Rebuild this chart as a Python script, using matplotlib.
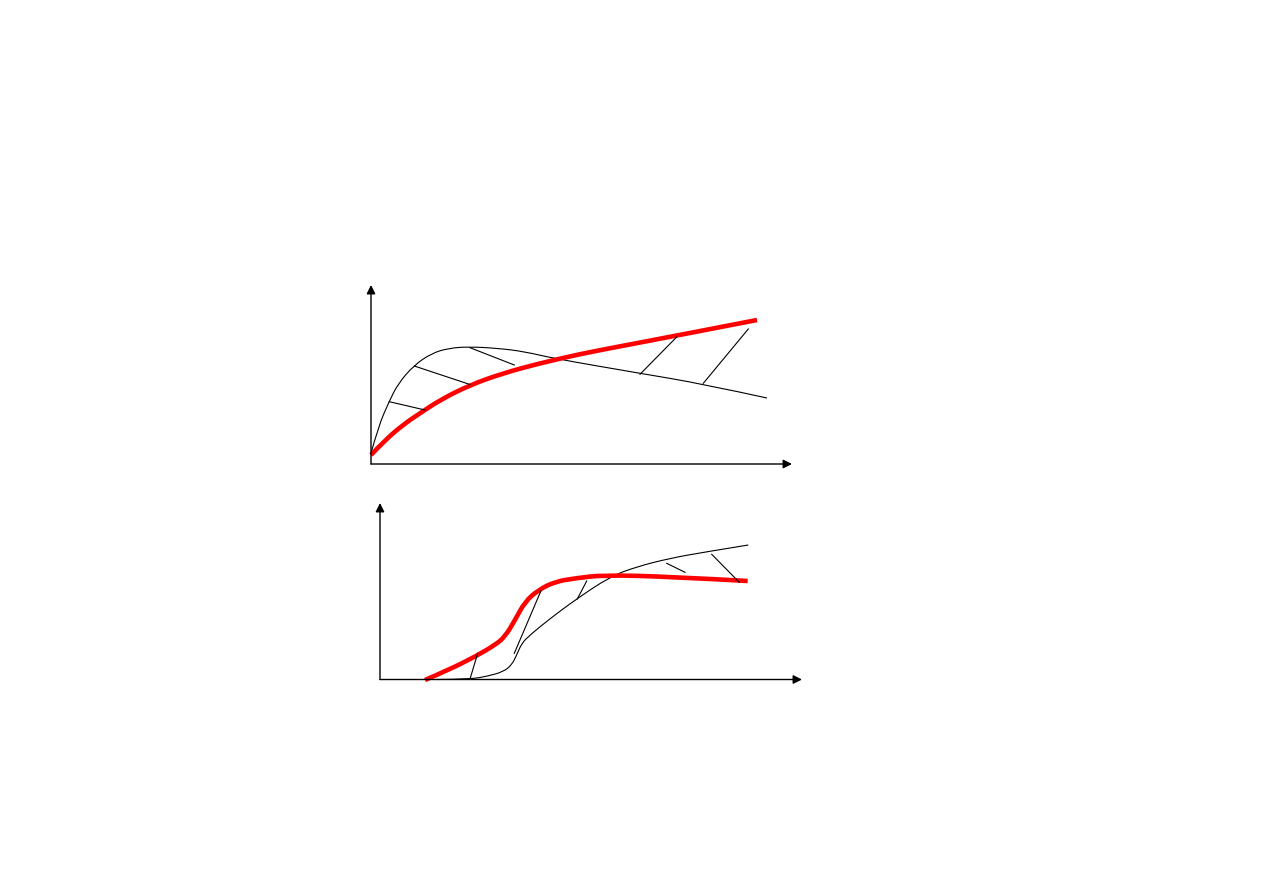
import matplotlib
matplotlib.use("Agg")
import matplotlib.pyplot as plt
from matplotlib.path import Path
from matplotlib.patches import PathPatch

W, H = 1263, 893

# top panel: thin black curve, thick red curve, short connecting strokes
top_black_x = [0, 7.3, 18, 27.3, 43.3, 60.7, 77.3, 97.3, 127.3, 154, 182, 269, 332, 396]
top_black_y = [10.7, 37.3, 62.3, 80.7, 99, 110.7, 115.7, 117.3, 115.7, 112.3, 105.7, 90.7, 80, 66]
top_red_x = [0, 14, 34, 49, 69, 99, 132, 166, 209, 256, 306, 386]
top_red_y = [9, 24, 40.7, 50.7, 64, 79, 90.7, 100, 110, 119, 128.5, 144]
top_hatch = [((18.3, 62.3), (54, 54)),
             ((43.3, 98), (99, 79.5)),
             ((99, 116.3), (143.3, 99)),
             ((269, 89.7), (305.7, 127)),
             ((332.3, 80.7), (377.3, 135)),]

# bottom panel
bot_black_x = [57, 90, 108.3, 123.3, 131.7, 136.7, 141.7, 150, 168.3, 195, 230, 256.7, 290, 323.3, 368.3]
bot_black_y = [0, 0.2, 3.5, 7.8, 14.5, 24.5, 36.2, 44.5, 59.5, 79.5, 102.8, 112.8, 121.2, 127.2, 134.5]
bot_red_x = [45, 68.3, 95, 115, 125, 135, 145, 158.3, 175, 195, 223.3, 290, 367.7]
bot_red_y = [-0.5, 9.5, 22.8, 34.5, 42.8, 59.5, 77.8, 89.5, 97.8, 101.2, 104.5, 102.8, 98.5]
bot_hatch = [((90, 0.5), (97.7, 26.2)),
             ((134.3, 26.2), (161, 88.8)),
             ((197.3, 80.5), (206.7, 98.5)),
             ((286.7, 116.2), (305, 107.2)),
             ((331.7, 125.2), (359.3, 97.2))]

fig = plt.figure(figsize=(W / 100, H / 100), dpi=100)
fig.patch.set_facecolor("white")


def smooth_path(xs, ys):
    # quadratic bezier through midpoints, the read points act as control points
    pts = list(zip(xs, ys))
    verts = [pts[0]]
    codes = [Path.MOVETO]
    for i in range(1, len(pts) - 1):
        mid = ((pts[i][0] + pts[i + 1][0]) / 2, (pts[i][1] + pts[i + 1][1]) / 2)
        if i == len(pts) - 2:
            mid = pts[-1]
        verts += [pts[i], mid]
        codes += [Path.CURVE3, Path.CURVE3]
    return Path(verts, codes)


def panel(ox, oy, tipx, tipy, bx, by, rx, ry, hatch):
    # ox, oy: origin in pixels; tipx/tipy: arrow tips in pixels
    w = tipx - ox
    h = oy - tipy
    ax = fig.add_axes([ox / W, (H - oy) / H, w / W, h / H])
    ax.set_xlim(0, w)
    ax.set_ylim(0, h)
    ax.axis("off")
    ap = dict(arrowstyle="-|>", color="black", lw=1.0, mutation_scale=13,
              shrinkA=0, shrinkB=0)
    ax.annotate("", xy=(w, 0), xytext=(0, 0), arrowprops=ap, annotation_clip=False)
    ax.annotate("", xy=(0, h), xytext=(0, 0), arrowprops=ap, annotation_clip=False)
    ax.add_patch(PathPatch(smooth_path(bx, by), facecolor="none", edgecolor="black",
                           lw=0.8, clip_on=False))
    for (x0, y0), (x1, y1) in hatch:
        ax.plot([x0, x1], [y0, y1], color="black", lw=0.8, clip_on=False)
    ax.add_patch(PathPatch(smooth_path(rx, ry), facecolor="none", edgecolor="#ff0000",
                           lw=3.3, clip_on=False, capstyle="butt", joinstyle="round"))
    return ax


panel(371, 464, 792, 285, top_black_x, top_black_y, top_red_x, top_red_y, top_hatch)
panel(380, 679.5, 802, 503, bot_black_x, bot_black_y, bot_red_x, bot_red_y, bot_hatch)

fig.savefig("out.png", dpi=100, facecolor="white")
